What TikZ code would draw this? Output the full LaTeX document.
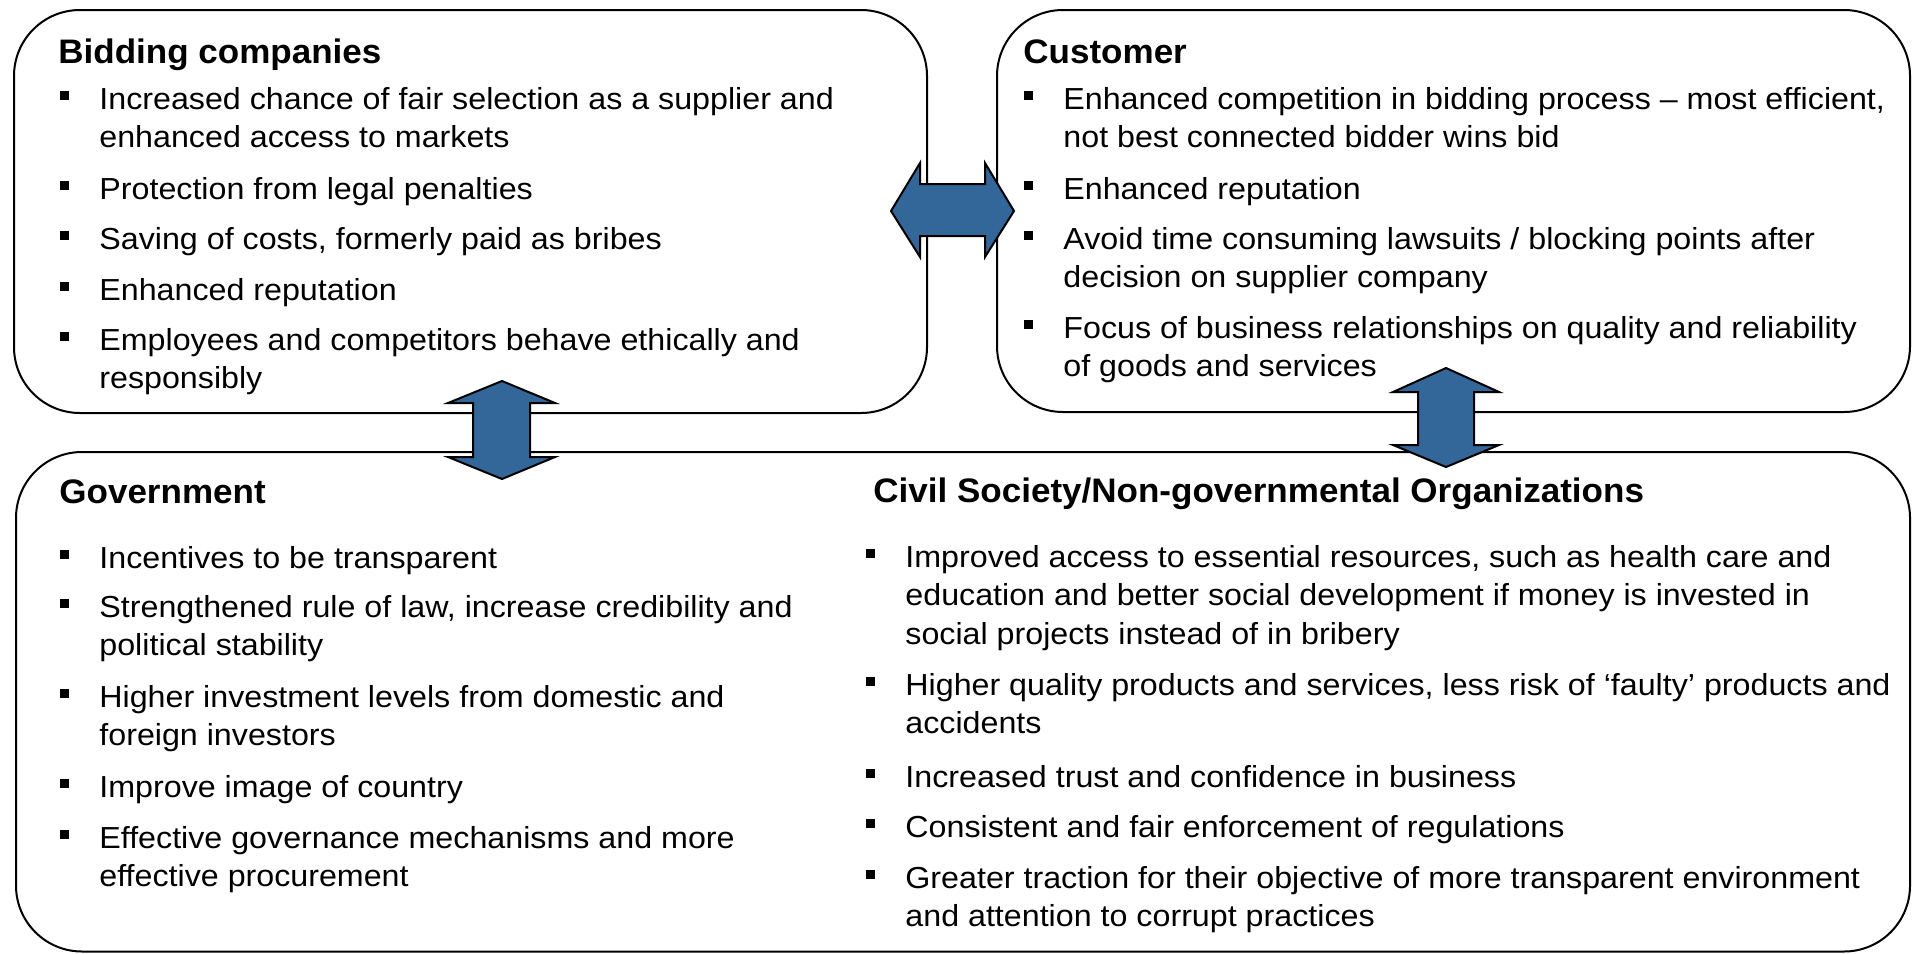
\documentclass[tikz,border=0pt]{standalone}
\usepackage{fontspec}
\setmainfont{Liberation Sans}
\newfontfamily\itemfamily[FakeStretch=1.06]{Liberation Sans}
\newfontfamily\headfamily[FakeStretch=1.03]{Liberation Sans}
\definecolor{arrowblue}{RGB}{51,102,153}
\newcommand{\entryfont}{\itemfamily\fontsize{15.2pt}{19.25pt}\selectfont}
\newcommand{\headfont}{\headfamily\fontsize{17pt}{20pt}\selectfont\bfseries}
\newcommand{\sqbullet}{\llap{\raisebox{4.5pt}{\rule{4.8pt}{4.4pt}}\hspace{15pt}}}
\newcommand{\entry}[1]{\begin{tabular}[t]{@{}l@{}}\sqbullet #1\end{tabular}}
\tikzset{
  panel/.style={draw=black, line width=1pt, rounded corners=33pt, fill=white},
  head/.style={anchor=base west, inner sep=0pt, font=\headfont},
  item/.style={anchor=base west, inner sep=0pt, font=\entryfont},
  dblarrow/.style={fill=arrowblue, draw=black, line width=1pt, line join=miter}
}
\begin{document}
\begin{tikzpicture}[x=0.5pt, y=-0.5pt]
\useasboundingbox (0,0) rectangle (1914,953);

% panels
\draw[panel] (14,10) rectangle (927,413);
\draw[panel] (997,10) rectangle (1910,412);
\draw[panel] (16,452) rectangle (1910,951.5);

% Bidding companies
\node[head] (hBid) at (58,63) {Bidding companies};
\node[item] (b1) at (99,109) {\entry{Increased chance of fair selection as a supplier and\\enhanced access to markets}};
\node[item] (b2) at (99,199) {\entry{Protection from legal penalties}};
\node[item] (b3) at (99,249) {\entry{Saving of costs, formerly paid as bribes}};
\node[item] (b4) at (99,300) {\entry{Enhanced reputation}};
\node[item] (b5) at (99,350) {\entry{Employees and competitors behave ethically and\\responsibly}};

% Customer
\node[head] (hCust) at (1023,63) {Customer};
\node[item] (c1) at (1063,109) {\entry{Enhanced competition in bidding process – most efficient,\\not best connected bidder wins bid}};
\node[item] (c2) at (1063,199) {\entry{Enhanced reputation}};
\node[item] (c3) at (1063,249) {\entry{Avoid time consuming lawsuits / blocking points after\\decision on supplier company}};
\node[item] (c4) at (1063,338) {\entry{Focus of business relationships on quality and reliability\\of goods and services}};

% Government
\node[head] (hGov) at (59,503) {Government};
\node[item] (g1) at (99,568) {\entry{Incentives to be transparent}};
\node[item] (g2) at (99,617) {\entry{Strengthened rule of law, increase credibility and\\political stability}};
\node[item] (g3) at (99,707) {\entry{Higher investment levels from domestic and\\foreign investors}};
\node[item] (g4) at (99,797) {\entry{Improve image of country}};
\node[item] (g5) at (99,848) {\entry{Effective governance mechanisms and more\\effective procurement}};

% Civil society
\node[head] (hCiv) at (873,502) {Civil Society/Non-governmental Organizations};
\node[item] (n1) at (905,567) {\entry{Improved access to essential resources, such as health care and\\education and better social development if money is invested in\\social projects instead of in bribery}};
\node[item] (n2) at (905,695) {\entry{Higher quality products and services, less risk of ‘faulty’ products and\\accidents}};
\node[item] (n3) at (905,787) {\entry{Increased trust and confidence in business}};
\node[item] (n4) at (905,837) {\entry{Consistent and fair enforcement of regulations}};
\node[item] (n5) at (905,888) {\entry{Greater traction for their objective of more transparent environment\\and attention to corrupt practices}};

% double-headed block arrows between the panels
\draw[dblarrow] (891,211) -- (920,163) -- (920,184) -- (985,184) -- (985,163) -- (1014,211)
  -- (985,257) -- (985,236) -- (920,236) -- (920,257) -- cycle;
\draw[dblarrow] (502,381) -- (555,403) -- (530,403) -- (530,457) -- (555,457) -- (502,479)
  -- (448,457) -- (473,457) -- (473,403) -- (448,403) -- cycle;
\draw[dblarrow] (1446,368) -- (1499,392) -- (1474,392) -- (1474,445) -- (1499,445) -- (1446,467)
  -- (1393,445) -- (1418,445) -- (1418,392) -- (1393,392) -- cycle;
\end{tikzpicture}
\end{document}
